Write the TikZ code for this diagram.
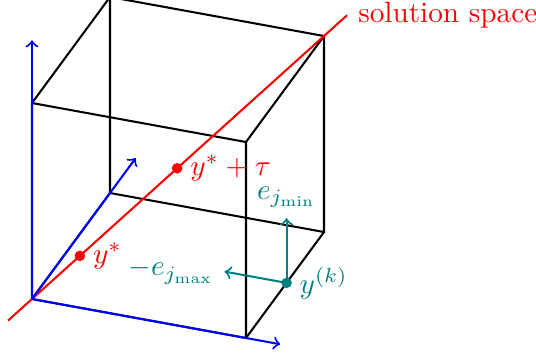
\documentclass[tikz,border=0pt]{standalone}
\begin{document}
\begin{tikzpicture}[
  x={(73.19pt,-13.34pt)}, y={(26.68pt,36.25pt)}, z={(0pt,67.03pt)},
  line width=0.7pt,
  cubeedge/.style={black},
  axis/.style={blue,->},
  solline/.style={red},
  dirarrow/.style={teal,->},
  dot/.style={circle, fill, inner sep=0pt, minimum size=3.6pt},
  lbl/.style={inner sep=2pt}
]
\useasboundingbox (-10.94pt,-20.86pt) rectangle (172.37pt,102.26pt);
% cube corners
\coordinate (O) at (0,0,0);
\coordinate (A) at (1,0,0);
\coordinate (B) at (1,1,0);
\coordinate (C) at (0,1,0);
\coordinate (D) at (0,0,1);
\coordinate (E) at (1,0,1);
\coordinate (F) at (1,1,1);
\coordinate (G) at (0,1,1);
\draw[cubeedge] (O) -- (A) -- (E) -- (D) -- cycle;
\draw[cubeedge] (C) -- (B) -- (F) -- (G) -- cycle;
\draw[cubeedge] (O) -- (C) (A) -- (B) (E) -- (F) (D) -- (G);
% solution space line
\coordinate (r0) at (-0.082,-0.082,-0.082);
\coordinate (r1) at (1.079,1.079,1.079);
\draw[solline] (r0) -- (r1);
\node[anchor=west, text=red, inner sep=3.5pt] (solname) at (r1) {solution space};
% axes
\coordinate (xe) at (1.16,0,0);
\coordinate (ye) at (0,1.33,0);
\coordinate (ze) at (0,0,1.32);
\draw[axis] (O) -- (xe);
\draw[axis] (O) -- (ye);
\draw[axis] (O) -- (ze);
% points on the solution line
\node[dot, red] (ys) at (0.164,0.164,0.164) {};
\node[lbl, anchor=west, text=red] (yslbl) at (ys.east) {$y^*$};
\node[dot, red] (yt) at (0.497,0.497,0.497) {};
\node[lbl, anchor=west, text=red] (ytlbl) at (yt.east) {$y^*+\tau$};
% current point and directions
\coordinate (yk) at (1,0.52,0);
\coordinate (up) at (1,0.52,0.33);
\coordinate (lf) at (0.71,0.52,0);
\draw[dirarrow] (yk) -- (up);
\draw[dirarrow] (yk) -- (lf);
\node[dot, teal] (ykdot) at (yk) {};
\node[lbl, anchor=west, text=teal] (yklbl) at (ykdot.east) {$y^{(k)}$};
\node[anchor=south, text=teal] (emin) at (up) {$e_{j_{\min}}$};
\node[anchor=east, text=teal] (emax) at (lf) {$-e_{j_{\max}}$};
\end{tikzpicture}
\end{document}
